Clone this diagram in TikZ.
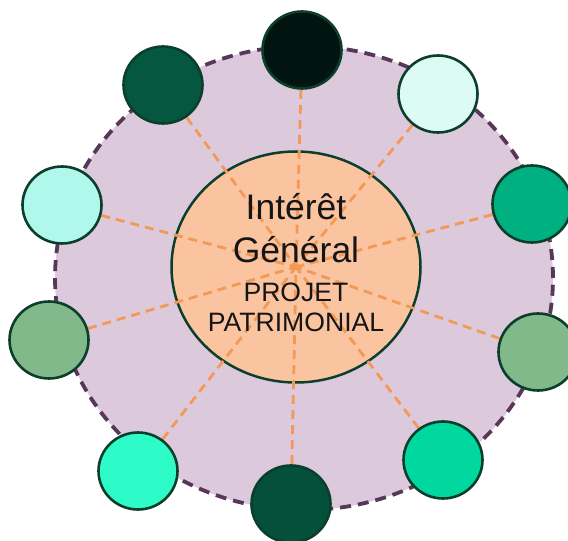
\documentclass[tikz,border=0pt]{standalone}
\usepackage{fontspec}
\setmainfont{Liberation Sans}
\usetikzlibrary{shapes.geometric}
\definecolor{bigfill}{HTML}{DCCADC}
\definecolor{bigline}{HTML}{583858}
\definecolor{corefill}{HTML}{FBC4A0}
\definecolor{edge}{HTML}{0B3F2C}
\definecolor{ray}{HTML}{F29A55}
\definecolor{txt}{HTML}{151515}
\definecolor{cA}{HTML}{021410}
\definecolor{cB}{HTML}{05573F}
\definecolor{cC}{HTML}{DDFBF5}
\definecolor{cD}{HTML}{00B080}
\definecolor{cE}{HTML}{B0F8EC}
\definecolor{cF}{HTML}{82B98A}
\definecolor{cG}{HTML}{2EFCC8}
\definecolor{cH}{HTML}{00D8A0}
\definecolor{cI}{HTML}{04503A}
\pgfdeclarelayer{back}
\pgfdeclarelayer{mid}
\pgfsetlayers{back,mid,main}
\tikzset{
  outer/.style={ellipse, draw=bigline, fill=bigfill, line width=3.8pt,
    dash pattern=on 11pt off 7pt, minimum width=498pt, minimum height=464pt, inner sep=0pt},
  core/.style={ellipse, draw=edge, fill=corefill, line width=2.5pt,
    minimum width=249pt, minimum height=231pt, inner sep=0pt},
  sat/.style={ellipse, draw=edge, line width=2.6pt, minimum width=79pt,
    minimum height=77pt, inner sep=0pt},
  rayline/.style={draw=ray, line width=2.8pt, dash pattern=on 9pt off 6pt},
  bigtxt/.style={font=\fontsize{35.5}{43}\selectfont, text=txt, inner sep=0pt, anchor=base},
  smalltxt/.style={font=\fontsize{26.6}{30}\selectfont, text=txt, inner sep=0pt, anchor=base}
}
\begin{document}
\begin{tikzpicture}[x=1pt,y=1pt]
\useasboundingbox (0,0) rectangle (568,541);
\clip (0,0) rectangle (568,541);
\begin{pgfonlayer}{back}
\node[outer] (ring) at (304,263) {};
\node[core] (c) at (296,274) {};
\end{pgfonlayer}
\node[sat, fill=cA] (s1) at (302,491) {};
\node[sat, fill=cB] (s2) at (163,456) {};
\node[sat, fill=cC] (s3) at (438,447) {};
\node[sat, fill=cD] (s4) at (532,337) {};
\node[sat, fill=cE] (s5) at (62,336) {};
\node[sat, fill=cF] (s6) at (49,201) {};
\node[sat, fill=cF] (s7) at (538,189) {};
\node[sat, fill=cG] (s8) at (138,70) {};
\node[sat, fill=cH] (s9) at (443,81) {};
\node[sat, fill=cI] (s10) at (291,37) {};
\begin{pgfonlayer}{mid}
\foreach \s in {s1,s2,s3,s4,s5,s6,s7,s8,s9,s10}{
  \draw[rayline] (\s) -- (c.center);
}
\end{pgfonlayer}
\node[bigtxt] (t1) at (296,321) {Intérêt};
\node[bigtxt] (t2) at (296,278) {Général};
\node[smalltxt] (t3) at (296,239) {PROJET};
\node[smalltxt] (t4) at (296,209) {PATRIMONIAL};
\end{tikzpicture}
\end{document}
